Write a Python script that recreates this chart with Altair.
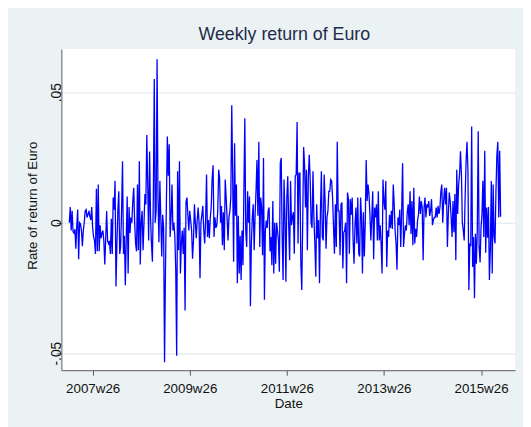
import altair as alt
import pandas as pd

# Weekly returns of the Euro, in thousandths, one list per year
ret_2007 = [0, 6, -3, 4.5, -3.5, -4, -2.5, -10, -1, 5, -14, 0, -0.5, -3, -9, -3, 0, 4.5, 5, 2,
            3, 4.5, 2.5, 1, 6, -2, -5.5, -7, -12, 13, -11, 14.6, -11, -1, -6, -4, -3, -7, -16, -6,
            4.5, -7, -8, -7, -12, 1.5, -12, 9.6, 5, 16, -24.5, -8]
ret_2008 = [4.5, 12, -12, -9, 5, 23.5, -12, -5, -24, -6, 10, -19.5, 6, -4, 2, 0, 8.3, 13.4, 0, -8,
            -11, 14.6, -10.6, 23.5, -16, 0, 4.5, -10.6, 0, 11, 7, 33.6, 14.6, -6.8, 27.3, 2, -8, -15, 9.6, 55,
            0, 4.5, 62.6, 9.6, -7.5, 16, 2, -13, 3, -2, -53.5, -18]
ret_2009 = [8, 33, 18, 30, -5.5, 2, 14.6, -3, 0, -5, -18, -51, 19.7, -10.6, 23.5, -19.5, -8, -3, -12, -2,
            -33.7, 8, 9.6, 3, -3, 4.5, 1, -3, -13.8, -6.8, 7, 0, -6, 1, 5.8, 0, -21.3, 0, 3, 6.4,
            -3, -8, 1, 18.4, -5.5, 1, -6, 2, 5.8, 17, 22, -5.5]
ret_2010 = [2, -2, -1, 4.5, 20.3, 17, 0, 6.4, -8.7, 4, -10.6, 16.5, 9.6, 2, -6.8, 2, 4.5, 9.6, 45, 17,
            -15, 30.4, 2.6, 14.6, -23.2, 2.6, -19.5, -5, -22, -3, -16.3, 12, 40, -3, -9.3, 12, 0, 10, -32, -8,
            2, 7, -10.6, 3, 12, 24, 2.6, 31, -9.3, 9.6, 5.8, -12.5]
ret_2011 = [24.8, -29.5, -3, 0.8, -2, 4.5, 5.8, -11, -5.5, -16.3, 8.3, -19.5, 0, -15.7, 0, -3, -6.8, -18.8, 22.8, 24.8,
            -5.5, -22, 16.5, 2.6, -22.6, 9.6, 17.8, -1, -14.4, 16, -1, 2, 4, -11.9, 17.8, 18.4, 38.6, -8, 19, 19,
            -15.7, -25.8, 0, 29, 22, 5.8, 20.3, -10.6, 17, 26, 17, 0]
ret_2012 = [-2, 19.7, 2, -8, -20.7, 7, -6, 1, -23.2, 4.5, 19.7, -5.5, -6.8, 18.4, 8.3, -10, 2, 4.5, 12, 12,
            16.5, 16, 9.6, -1.5, -11.9, 7, -9.3, 31, 4.5, 4.5, -12.5, 7, 7.7, -17.6, -3.7, -3, 0, -23.2, 11.5, 9,
            -11.9, 9, 3, 9.6, -6.8, -15.7, -1, 5.8, -8, 9.6, -11.9, -13]
ret_2013 = [9.6, 2, -19.5, 4, -13, 0, 24, 8.3, 14.6, 11, 3, -6.8, 2, 12, -14, 5.8, 2, 7, -6.8, 12,
            -6.8, -1, -8, -19.5, 16.5, 8.3, 5, 16, -17, -3, -5.5, 3, -2, 4.5, -2.4, 14.6, 7, -3, -8, -18,
            2, -1, 5, -9.3, 4.5, 22.8, -9.3, -4.3, -1, -3, 4, 7]
ret_2014 = [-1, 12, -4.3, 8.3, -8.7, 13.4, -8, -2.4, -5.5, 0.8, 3, 10, 3.3, 8.3, 5.8, -14.4, 5.8, 9.6, 2, 7,
            5.8, 8.3, 2.6, 4.5, 9, -1, 1, 2, 2, 5.8, 2, 6.4, 3.3, 5.8, 12, 14.6, 0, 8.3, 13.4, 7,
            13.4, -9.3, 3.3, 11.5, 8.3, 2, -5.5, 8.3, -3.7, 11, -14.4, 20.3]
ret_2015 = [3.3, 14.6, 18.4, 27.3, 19, 0, -3, -6.8, 10, 23.5, 31, 20, -25.8, -8, -9, 36.8, -17, -5.5, -29, -4.3,
            -15.7, -3, 35, -9.3, -15.3, -2, 3, 16, -5.5, 27.5, -11.5, 5.8, -5.8, 6, -22, -10, 16, -19.5, 14.6, -5.3,
            -8, 12, 26, 31, 2, 27.5, 2.3]

years = [2007, 2008, 2009, 2010, 2011, 2012, 2013, 2014, 2015]
series = [ret_2007, ret_2008, ret_2009, ret_2010, ret_2011, ret_2012, ret_2013, ret_2014, ret_2015]

# Stata weekly dates (%tw): weeks since 1960w1, 52 weeks a year
tick_weeks = [2469, 2573, 2677, 2781, 2885]   # 2007w26 ... 2015w26
x_domain = [2435.5, 2921.5]
y_ticks = [-0.05, 0, 0.05]
y_domain = [-0.05655, 0.06655]

rows = []
for yr, vals in zip(years, series):
    for i, v in enumerate(vals):
        rows.append({"date": (yr - 1960) * 52 + i, "ret": v / 1000.0})
df = pd.DataFrame(rows)

FONT = "Liberation Sans"
AXC = "#5a5a5a"

chart = alt.Chart(df).mark_line(color="#0000ff", strokeWidth=1.3).encode(
    x=alt.X("date:Q",
            scale=alt.Scale(domain=x_domain, nice=False, zero=False),
            axis=alt.Axis(values=tick_weeks, title="Date", grid=False,
                          labelExpr="floor(datum.value/52)+1960 + 'w' + (datum.value%52+1)",
                          tickSize=5, labelPadding=7, labelFontSize=13.5,
                          titleFontSize=13.5, titleFontWeight="normal",
                          titleBaseline="alphabetic", titleY=38, titlePadding=0)),
    y=alt.Y("ret:Q",
            scale=alt.Scale(domain=y_domain, nice=False, zero=False),
            axis=alt.Axis(values=y_ticks, title="Rate of return of Euro",
                          labelExpr="datum.value == 0 ? '0' : (datum.value > 0 ? '.05' : '-.05')",
                          labelAngle=270, labelAlign="center", labelBaseline="alphabetic",
                          tickSize=5, labelPadding=-4, labelFontSize=14,
                          titleFontSize=13.5, titleFontWeight="normal",
                          titleAngle=270, titleAlign="center", titleBaseline="alphabetic",
                          titleX=-25, titleY=158, grid=True, gridColor="#e3ecef", gridWidth=1.2)),
).properties(
    width=459, height=325,
    title=alt.TitleParams("Weekly return of Euro", fontSize=18, font=FONT, fontWeight="normal",
                          color="#1f2a4a", anchor="middle", frame="group", dx=-4, dy=18,
                          baseline="alphabetic", offset=9),
    autosize=alt.AutoSizeParams(type="none"),
    padding={"left": 54, "top": 39, "right": 8, "bottom": 55},
    background="#eaf2f3",
).configure_view(
    stroke=None, fill="white"
).configure_axis(
    domainColor=AXC, tickColor=AXC, domainWidth=1, tickWidth=1,
    labelFont=FONT, titleFont=FONT, labelColor="#111111", titleColor="#111111",
)

chart.save("out.html", embed_options={"renderer": "svg", "actions": False})
